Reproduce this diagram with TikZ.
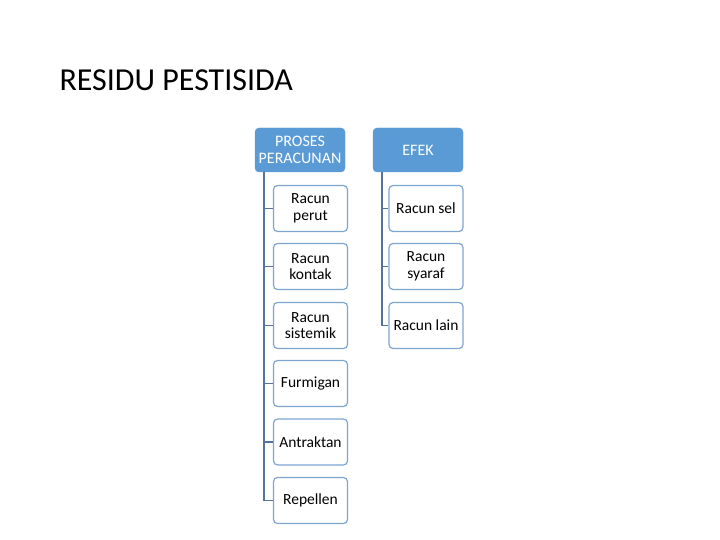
\documentclass[tikz,border=0pt]{standalone}
\usepackage{fontspec}
\setmainfont{Carlito}
\definecolor{headblue}{RGB}{91,155,213}
\definecolor{boxline}{RGB}{125,165,210}
\definecolor{connline}{RGB}{85,115,155}
\tikzset{>=latex}

\begin{document}
\begin{tikzpicture}[x=1pt,y=-1pt,
	head/.style={rounded corners=4pt, fill=headblue, draw=headblue, text=white,
		minimum width=90pt, minimum height=44pt, align=center, inner sep=1pt,
		font=\fontsize{16}{17}\selectfont},
	item/.style={rounded corners=4pt, fill=white, draw=boxline, line width=1.2pt,
		minimum width=74pt, minimum height=46pt, align=center, inner sep=1pt,
		font=\fontsize{15.5}{16.5}\selectfont},
	conn/.style={draw=connline, line width=1.2pt}]
	\useasboundingbox (0,0) rectangle (720,540);

	\node[anchor=base west, font=\fontsize{32}{36}\selectfont] (title) at (56,91) {RESIDU PESTISIDA};

	\node[head] (proses) at (300,150) {PROSES\\PERACUNAN};
	\node[head] (efek) at (418,150) {EFEK};

	\node[item] (perut) at (310.5,208.5) {Racun\\perut};
	\node[item] (kontak) at (310.5,266.5) {Racun\\kontak};
	\node[item] (sistemik) at (310.5,325.5) {Racun\\sistemik};
	\node[item] (furmigan) at (310.5,383.5) {Furmigan};
	\node[item] (antraktan) at (310.5,442) {Antraktan};
	\node[item] (repellen) at (310.5,500.5) {Repellen};

	\node[item] (sel) at (426,208.5) {Racun sel};
	\node[item] (syaraf) at (426,266.5) {Racun\\syaraf};
	\node[item] (lain) at (426,325.5) {Racun lain};

	\coordinate (pk) at (264,172);
	\coordinate (ek) at (382,172);
	\foreach \c in {perut,kontak,sistemik,furmigan,antraktan,repellen}
		\draw[conn] (pk) |- (\c.west);
	\foreach \c in {sel,syaraf,lain}
		\draw[conn] (ek) |- (\c.west);
\end{tikzpicture}
\end{document}
